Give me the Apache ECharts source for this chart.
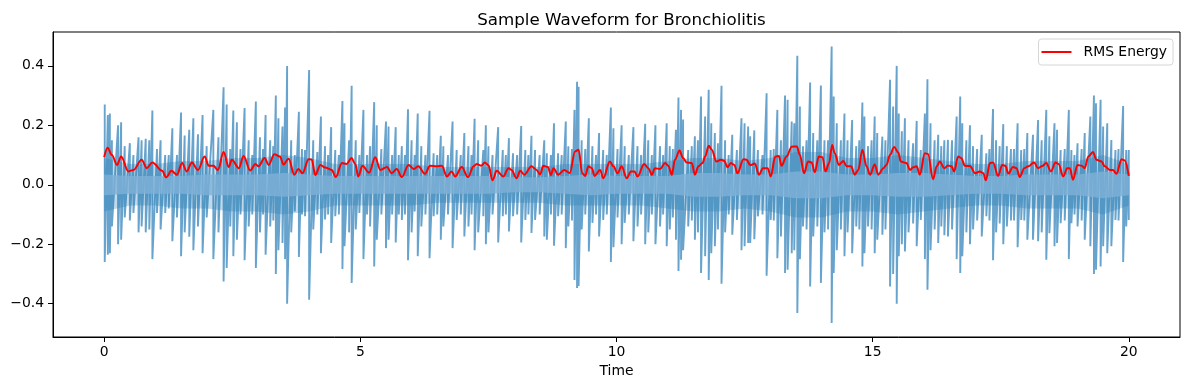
<!DOCTYPE html>
<html>
<head>
<meta charset="utf-8">
<script src="https://cdn.jsdelivr.net/npm/echarts@6/dist/echarts.min.js"></script>
<style>html,body{margin:0;padding:0;background:#fff}#c{width:1190px;height:390px}</style>
</head>
<body>
<div id="c"></div>
<script>
// ---- Data ----
const title = 'Sample Waveform for Bronchiolitis';
const xName = 'Time';
const xTicks = [0, 5, 10, 15, 20];
const yTicks = [-0.4, -0.2, 0.0, 0.2, 0.4];

// waveform excursions: time (s), upper and lower amplitude
const spikeT = [0.01,0.07,0.11,0.15,0.27,0.33,0.40,0.50,0.57,0.67,0.73,0.81,0.88,0.94,1.03,1.10,1.19,1.26,1.33,1.42,1.50,1.57,1.66,1.74,1.83,1.92,2.00,2.13,2.23,2.33,2.39,2.46,2.52,2.59,2.66,2.74,2.82,2.89,2.96,3.04,3.10,3.15,3.24,3.30,3.35,3.40,3.48,3.53,3.57,3.65,3.72,3.80,3.86,3.92,4.00,4.08,4.16,4.23,4.31,4.37,4.43,4.51,4.58,4.65,4.69,4.78,4.83,4.91,4.98,5.06,5.13,5.19,5.27,5.32,5.41,5.50,5.55,5.62,5.69,5.75,5.81,5.87,5.93,6.00,6.06,6.12,6.19,6.27,6.35,6.43,6.50,6.57,6.62,6.71,6.80,6.88,6.96,7.03,7.11,7.17,7.23,7.30,7.40,7.45,7.50,7.58,7.69,7.78,7.84,7.90,7.98,8.06,8.14,8.22,8.28,8.34,8.41,8.50,8.59,8.64,8.72,8.78,8.86,8.93,9.01,9.06,9.13,9.18,9.23,9.26,9.32,9.39,9.46,9.53,9.60,9.66,9.74,9.81,9.89,9.94,10.02,10.10,10.16,10.24,10.33,10.41,10.48,10.56,10.62,10.69,10.76,10.85,10.91,10.98,11.04,11.10,11.16,11.21,11.26,11.30,11.40,11.47,11.53,11.59,11.65,11.73,11.80,11.85,11.92,11.98,12.05,12.12,12.19,12.26,12.35,12.44,12.50,12.57,12.61,12.69,12.76,12.85,12.93,13.01,13.07,13.14,13.21,13.29,13.34,13.42,13.47,13.53,13.58,13.64,13.71,13.78,13.84,13.92,13.99,14.06,14.13,14.20,14.24,14.30,14.38,14.45,14.51,14.60,14.68,14.74,14.80,14.84,14.91,14.98,15.04,15.09,15.19,15.25,15.34,15.40,15.47,15.51,15.57,15.63,15.70,15.79,15.86,15.94,16.02,16.07,16.13,16.21,16.28,16.34,16.40,16.47,16.55,16.64,16.71,16.75,16.83,16.90,16.96,17.04,17.13,17.22,17.28,17.35,17.41,17.48,17.55,17.62,17.70,17.76,17.83,17.90,17.96,18.02,18.13,18.23,18.30,18.39,18.45,18.55,18.60,18.67,18.75,18.83,18.88,18.94,19.00,19.08,19.14,19.25,19.32,19.36,19.45,19.50,19.58,19.66,19.74,19.80,19.89,19.95,20.00];
const spikeHi = [0.27,0.235,0.24,0.15,0.20,0.21,0.13,0.14,0.10,0.16,0.15,0.155,0.15,0.25,0.12,0.15,0.10,0.10,0.19,0.10,0.243,0.166,0.185,0.224,0.17,0.235,0.13,0.252,0.16,0.328,0.27,0.12,0.25,0.21,0.12,0.258,0.15,0.10,0.28,0.16,0.12,0.235,0.15,0.13,0.30,0.224,0.196,0.26,0.40,0.15,0.10,0.246,0.12,0.117,0.386,0.15,0.11,0.23,0.13,0.10,0.194,0.117,0.10,0.282,0.207,0.15,0.333,0.15,0.10,0.252,0.10,0.13,0.278,0.20,0.12,0.213,0.196,0.10,0.194,0.10,0.13,0.10,0.254,0.15,0.10,0.24,0.13,0.10,0.249,0.106,0.10,0.165,0.13,0.10,0.213,0.117,0.10,0.174,0.13,0.10,0.222,0.15,0.117,0.20,0.13,0.10,0.194,0.117,0.10,0.157,0.106,0.10,0.198,0.117,0.10,0.165,0.117,0.10,0.15,0.106,0.10,0.207,0.106,0.10,0.213,0.13,0.12,0.252,0.347,0.33,0.15,0.12,0.224,0.13,0.10,0.174,0.117,0.10,0.26,0.19,0.12,0.20,0.13,0.10,0.194,0.13,0.10,0.205,0.15,0.10,0.20,0.13,0.10,0.207,0.13,0.12,0.185,0.294,0.252,0.22,0.117,0.13,0.163,0.15,0.297,0.23,0.32,0.207,0.174,0.14,0.333,0.15,0.10,0.168,0.117,0.224,0.207,0.196,0.163,0.183,0.117,0.10,0.308,0.117,0.12,0.252,0.15,0.30,0.286,0.213,0.207,0.434,0.263,0.13,0.15,0.344,0.174,0.15,0.334,0.15,0.15,0.465,0.297,0.207,0.15,0.24,0.15,0.218,0.13,0.15,0.277,0.23,0.13,0.15,0.23,0.174,0.162,0.15,0.353,0.263,0.40,0.24,0.18,0.224,0.15,0.14,0.215,0.117,0.24,0.355,0.207,0.15,0.168,0.13,0.15,0.151,0.15,0.23,0.297,0.207,0.15,0.20,0.13,0.12,0.168,0.106,0.12,0.255,0.15,0.13,0.204,0.13,0.12,0.12,0.207,0.117,0.12,0.174,0.168,0.218,0.15,0.252,0.163,0.207,0.185,0.117,0.12,0.252,0.117,0.10,0.14,0.12,0.174,0.23,0.30,0.274,0.286,0.196,0.207,0.151,0.117,0.12,0.265,0.117,0.117];
const spikeLo = [-0.26,-0.235,-0.23,-0.14,-0.20,-0.185,-0.11,-0.12,-0.095,-0.16,-0.14,-0.16,-0.15,-0.25,-0.095,-0.15,-0.095,-0.08,-0.19,-0.11,-0.24,-0.16,-0.175,-0.22,-0.14,-0.23,-0.11,-0.25,-0.16,-0.325,-0.28,-0.14,-0.24,-0.185,-0.10,-0.254,-0.14,-0.10,-0.28,-0.16,-0.10,-0.235,-0.14,-0.12,-0.30,-0.22,-0.196,-0.25,-0.40,-0.16,-0.09,-0.243,-0.10,-0.106,-0.387,-0.15,-0.10,-0.23,-0.117,-0.10,-0.196,-0.106,-0.10,-0.283,-0.207,-0.16,-0.33,-0.15,-0.095,-0.25,-0.10,-0.14,-0.275,-0.185,-0.10,-0.213,-0.185,-0.10,-0.194,-0.10,-0.118,-0.10,-0.254,-0.16,-0.09,-0.24,-0.14,-0.10,-0.247,-0.106,-0.10,-0.185,-0.14,-0.10,-0.213,-0.118,-0.10,-0.174,-0.14,-0.10,-0.22,-0.16,-0.106,-0.20,-0.16,-0.10,-0.194,-0.106,-0.10,-0.157,-0.106,-0.10,-0.194,-0.118,-0.10,-0.162,-0.118,-0.10,-0.174,-0.185,-0.10,-0.205,-0.106,-0.10,-0.213,-0.14,-0.12,-0.32,-0.347,-0.34,-0.15,-0.10,-0.224,-0.128,-0.10,-0.174,-0.118,-0.10,-0.26,-0.21,-0.11,-0.20,-0.128,-0.10,-0.19,-0.14,-0.10,-0.20,-0.16,-0.10,-0.20,-0.14,-0.10,-0.207,-0.15,-0.11,-0.185,-0.29,-0.252,-0.22,-0.14,-0.12,-0.185,-0.16,-0.297,-0.24,-0.32,-0.23,-0.207,-0.15,-0.333,-0.16,-0.10,-0.168,-0.118,-0.22,-0.207,-0.196,-0.196,-0.183,-0.106,-0.10,-0.306,-0.118,-0.12,-0.247,-0.174,-0.297,-0.286,-0.23,-0.22,-0.431,-0.25,-0.14,-0.15,-0.342,-0.174,-0.14,-0.33,-0.16,-0.15,-0.465,-0.297,-0.22,-0.15,-0.24,-0.16,-0.23,-0.14,-0.15,-0.275,-0.23,-0.14,-0.15,-0.23,-0.185,-0.168,-0.15,-0.342,-0.30,-0.40,-0.24,-0.20,-0.224,-0.16,-0.13,-0.207,-0.118,-0.25,-0.353,-0.22,-0.15,-0.196,-0.14,-0.17,-0.174,-0.15,-0.25,-0.297,-0.24,-0.16,-0.20,-0.15,-0.12,-0.174,-0.106,-0.12,-0.254,-0.16,-0.13,-0.20,-0.14,-0.12,-0.12,-0.21,-0.118,-0.12,-0.185,-0.185,-0.19,-0.16,-0.252,-0.163,-0.207,-0.196,-0.129,-0.12,-0.25,-0.129,-0.10,-0.14,-0.12,-0.185,-0.207,-0.30,-0.286,-0.275,-0.207,-0.23,-0.207,-0.118,-0.12,-0.26,-0.14,-0.118];

// envelope of the dense body and of the light core, every 0.5 s (half-widths)
const envT = [0,0.5,1,1.5,2,2.5,3,3.5,4,4.5,5,5.5,6,6.5,7,7.5,8,8.5,9,9.5,10,10.5,11,11.5,12,12.5,13,13.5,14,14.5,15,15.5,16,16.5,17,17.5,18,18.5,19,19.5,20];
const bodyH = [0.09,0.07,0.07,0.08,0.08,0.09,0.09,0.10,0.09,0.07,0.07,0.07,0.07,0.06,0.06,0.06,0.06,0.06,0.07,0.07,0.07,0.07,0.08,0.09,0.09,0.08,0.09,0.11,0.11,0.09,0.09,0.10,0.09,0.08,0.07,0.07,0.08,0.08,0.08,0.10,0.07];
const coreH = [0.035,0.03,0.03,0.03,0.035,0.035,0.035,0.04,0.035,0.03,0.03,0.03,0.03,0.03,0.03,0.03,0.025,0.025,0.03,0.035,0.03,0.03,0.03,0.04,0.04,0.035,0.035,0.045,0.045,0.035,0.035,0.04,0.04,0.035,0.03,0.03,0.035,0.035,0.035,0.045,0.035];

// RMS energy curve
const rmsT = [0.00,0.065,0.15,0.25,0.33,0.47,0.57,0.73,0.83,0.94,1.13,1.21,1.31,1.42,1.52,1.61,1.71,1.83,1.96,2.04,2.13,2.22,2.33,2.43,2.49,2.63,2.72,2.85,2.95,3.01,3.13,3.21,3.32,3.43,3.50,3.60,3.71,3.79,3.87,3.99,4.05,4.12,4.22,4.31,4.44,4.52,4.64,4.73,4.83,4.90,4.96,5.04,5.17,5.29,5.39,5.52,5.61,5.71,5.81,5.94,6.04,6.13,6.26,6.36,6.49,6.59,6.69,6.78,6.85,6.98,7.10,7.21,7.27,7.36,7.43,7.50,7.58,7.66,7.79,7.89,7.95,8.05,8.12,8.20,8.34,8.44,8.51,8.57,8.66,8.72,8.77,8.86,8.98,9.09,9.19,9.26,9.33,9.39,9.45,9.52,9.57,9.68,9.74,9.87,9.94,10.02,10.10,10.20,10.28,10.35,10.41,10.54,10.62,10.69,10.75,10.85,10.95,11.01,11.08,11.14,11.23,11.30,11.37,11.47,11.53,11.60,11.68,11.73,11.80,11.86,11.95,12.04,12.10,12.17,12.23,12.30,12.36,12.48,12.54,12.61,12.70,12.78,12.86,12.95,13.01,13.10,13.17,13.22,13.32,13.42,13.52,13.58,13.66,13.74,13.81,13.87,13.95,14.02,14.08,14.15,14.21,14.26,14.34,14.43,14.49,14.58,14.65,14.72,14.80,14.88,14.95,15.04,15.11,15.21,15.27,15.34,15.42,15.50,15.55,15.66,15.73,15.79,15.86,15.92,16.02,16.08,16.18,16.25,16.31,16.40,16.47,16.54,16.59,16.67,16.73,16.80,16.90,17.00,17.09,17.16,17.21,17.29,17.35,17.45,17.53,17.59,17.65,17.74,17.81,17.87,17.96,18.04,18.15,18.23,18.30,18.39,18.48,18.57,18.63,18.72,18.80,18.85,18.91,19.00,19.08,19.14,19.21,19.30,19.37,19.47,19.53,19.63,19.69,19.76,19.86,19.92,20.00];
const rmsV = [0.093,0.125,0.10,0.067,0.095,0.045,0.05,0.084,0.056,0.075,0.047,0.025,0.047,0.034,0.073,0.045,0.075,0.05,0.095,0.064,0.064,0.05,0.11,0.06,0.084,0.056,0.097,0.048,0.07,0.062,0.09,0.067,0.103,0.095,0.068,0.088,0.034,0.053,0.039,0.086,0.085,0.033,0.067,0.058,0.05,0.026,0.073,0.07,0.09,0.07,0.028,0.064,0.041,0.093,0.05,0.06,0.039,0.053,0.026,0.067,0.053,0.062,0.037,0.064,0.062,0.064,0.028,0.045,0.028,0.06,0.026,0.062,0.07,0.064,0.075,0.066,0.015,0.047,0.028,0.056,0.05,0.022,0.047,0.034,0.062,0.05,0.035,0.064,0.06,0.033,0.056,0.034,0.05,0.04,0.112,0.118,0.039,0.03,0.062,0.056,0.03,0.05,0.022,0.078,0.062,0.039,0.062,0.022,0.045,0.045,0.028,0.07,0.056,0.034,0.056,0.053,0.073,0.064,0.034,0.084,0.115,0.09,0.075,0.073,0.034,0.062,0.073,0.095,0.131,0.118,0.078,0.084,0.081,0.059,0.073,0.067,0.039,0.086,0.084,0.066,0.072,0.034,0.056,0.056,0.028,0.095,0.097,0.064,0.095,0.128,0.129,0.10,0.039,0.078,0.075,0.042,0.095,0.093,0.045,0.073,0.134,0.106,0.067,0.08,0.062,0.062,0.034,0.05,0.118,0.062,0.034,0.068,0.034,0.056,0.067,0.101,0.127,0.109,0.078,0.073,0.05,0.059,0.062,0.034,0.106,0.104,0.019,0.062,0.078,0.056,0.065,0.062,0.045,0.095,0.09,0.064,0.063,0.039,0.045,0.039,0.015,0.073,0.075,0.03,0.067,0.064,0.038,0.06,0.056,0.026,0.056,0.062,0.075,0.056,0.062,0.073,0.045,0.075,0.07,0.028,0.056,0.056,0.017,0.067,0.064,0.056,0.095,0.11,0.084,0.078,0.062,0.05,0.05,0.037,0.086,0.082,0.03];

// ---- Build series from the arrays ----
const waveData = [];
spikeT.forEach((t, i) => { waveData.push([t, spikeHi[i]]); waveData.push([t, spikeLo[i]]); });
const rmsData = rmsT.map((t, i) => [t, rmsV[i]]);
const envData = envT.map((t, i) => [t, bodyH[i], coreH[i]]);

function bandRenderer(halfArr, fill) {
  return function (params, api) {
    if (params.dataIndex !== 0) return null;
    const pts = [];
    for (let i = 0; i < envT.length; i++) pts.push(api.coord([envT[i], halfArr[i]]));
    for (let i = envT.length - 1; i >= 0; i--) pts.push(api.coord([envT[i], -halfArr[i]]));
    return {type: 'polygon', shape: {points: pts, smooth: 0}, style: {fill: fill, stroke: null}};
  };
}

const FONT = 'DejaVu Sans';
const fmtY = v => (v < 0 ? '\u2212' : '') + Math.abs(v).toFixed(1);

const chart = echarts.init(document.getElementById('c'), null, {renderer: 'canvas'});
chart.setOption({
  animation: false,
  backgroundColor: '#ffffff',
  title: {
    text: title, left: 616.5, top: 7, textAlign: 'center',
    textStyle: {fontFamily: FONT, fontSize: 16.7, fontWeight: 'normal', color: '#000'}
  },
  legend: {
    data: [{name: 'RMS Energy', icon: 'rect'}], right: 17, top: 39,
    orient: 'vertical', itemWidth: 30, itemHeight: 2,
    padding: [5, 6, 5, 3],
    backgroundColor: '#fff', borderColor: '#d6d6d6', borderWidth: 1, borderRadius: 3,
    textStyle: {fontFamily: FONT, fontSize: 13.9, color: '#000', padding: [0, 0, 0, 7], lineHeight: 16}
  },
  grid: {left: 53, right: 10, top: 32, bottom: 53, show: true, borderColor: '#000', borderWidth: 1, backgroundColor: 'transparent'},
  xAxis: {
    type: 'value', min: -1, max: 21,
    name: xName, nameLocation: 'middle', nameGap: 26,
    nameTextStyle: {fontFamily: FONT, fontSize: 13.9, color: '#000'},
    axisLine: {show: true, onZero: false, lineStyle: {color: '#000', width: 1}},
    axisTick: {show: true, inside: false, length: 5, lineStyle: {color: '#000'}, customValues: xTicks},
    axisLabel: {margin: 8, fontFamily: FONT, fontSize: 13.9, color: '#000', customValues: xTicks, formatter: v => String(v)},
    splitLine: {show: false}
  },
  yAxis: {
    type: 'value', min: -0.512, max: 0.514,
    axisLine: {show: true, onZero: false, lineStyle: {color: '#000', width: 1}},
    axisTick: {show: true, inside: false, length: 5, lineStyle: {color: '#000'}, customValues: yTicks},
    axisLabel: {margin: 9, fontFamily: FONT, fontSize: 13.9, color: '#000', customValues: yTicks, formatter: fmtY},
    splitLine: {show: false}
  },
  series: [
    {
      name: 'body', type: 'custom', data: envData, z: 1, silent: true,
      renderItem: bandRenderer(bodyH, 'rgba(31,119,180,0.28)')
    },
    {
      name: 'waveform', type: 'line', data: waveData, symbol: 'none', sampling: 'none',
      lineStyle: {color: 'rgba(31,119,180,0.68)', width: 1.9}, z: 2, silent: true
    },
    {
      name: 'core', type: 'custom', data: envData, z: 3, silent: true,
      renderItem: bandRenderer(coreH, 'rgba(128,178,215,0.8)')
    },
    {
      name: 'RMS Energy', type: 'line', data: rmsData, symbol: 'none', smooth: 0.35, smoothMonotone: 'x',
      lineStyle: {color: '#ff0000', width: 2}, itemStyle: {color: '#ff0000'}, z: 5
    }
  ]
});
</script>
</body>
</html>
